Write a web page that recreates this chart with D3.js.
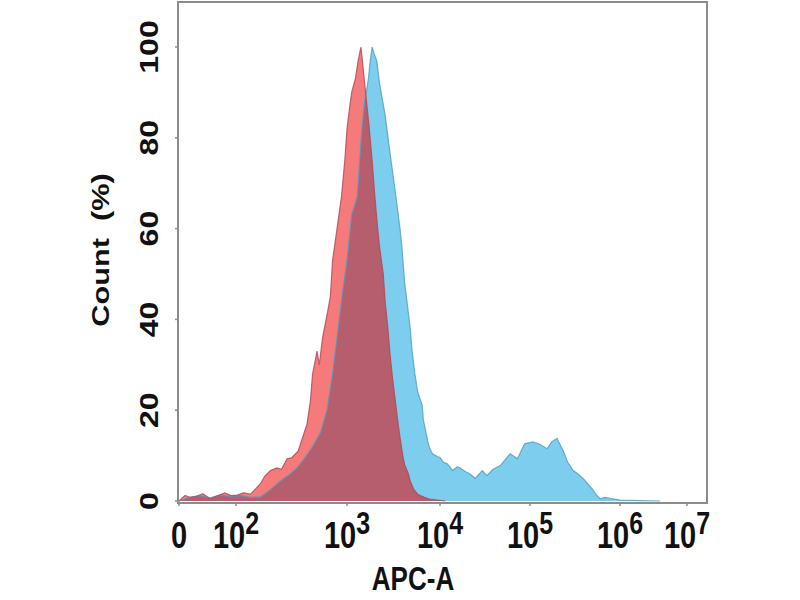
<!DOCTYPE html>
<html>
<head>
<meta charset="utf-8">
<script src="https://cdn.jsdelivr.net/npm/d3@7"></script>
<style>
  html, body { margin: 0; padding: 0; background: #fff; }
  svg { display: block; }
  text { font-family: "Liberation Sans", Arial, sans-serif; font-weight: bold; fill: #111; }
</style>
</head>
<body>
<svg id="chart" width="800" height="600"></svg>
<script>
// x values are log10(APC-A) decade positions on the display scale (0 = "0" tick)
const xTickValues = [0, 2, 3, 4, 5, 6, 7];
const xTickExponents = ["", "2", "3", "4", "5", "6", "7"];
const yTickValues = [0, 20, 40, 60, 80, 100];

// Control (red) histogram: [decade position, count %]
const redX = [0.00,0.21,0.39,0.63,0.84,1.09,1.37,1.61,1.82,2.01,2.07,2.13,2.17,2.22,2.26,2.31,2.37,2.41,2.46,2.50,
  2.56,2.60,2.64,2.67,2.69,2.73,2.75,2.78,2.82,2.85,2.87,2.91,2.95,2.98,3.00,3.03,3.05,3.09,3.12,3.15,
  3.17,3.20,3.24,3.27,3.30,3.33,3.35,3.39,3.41,3.44,3.46,3.49,3.52,3.55,3.57,3.60,3.62,3.66,3.68,3.72,
  3.76,3.83,3.89,4.06];
const redY = [0,1.2,0.8,1.1,1.6,0.5,1.2,1.8,1.2,1.3,1.8,1.5,2.5,3.8,5.5,6.7,7.3,7.0,9.3,9.5,
  11,14,17,22,28,33,30,36,41,45,53,60,67,75,82,87,90,93,97,100,
  96,90,82,75,67,60,56,50,44,38,33,27,22,17,14,10,8,6,4.4,2.5,
  1.5,0.8,0.4,0];

// Stained (blue) histogram: [decade position, count %]
const blueX = [0.00,0.39,0.74,1.09,1.44,1.79,2.04,2.13,2.22,2.31,2.40,2.49,2.55,2.62,2.69,2.76,2.82,2.87,2.92,2.96,
  3.00,3.05,3.11,3.14,3.16,3.19,3.23,3.25,3.27,3.30,3.32,3.35,3.41,3.46,3.52,3.57,3.59,3.62,3.645,3.68,
  3.70,3.73,3.76,3.81,3.82,3.85,3.87,3.89,3.92,3.97,4.00,4.04,4.08,4.11,4.14,4.19,4.22,4.28,4.33,4.39,
  4.47,4.52,4.59,4.67,4.72,4.78,4.86,4.94,5.03,5.11,5.19,5.24,5.30,5.37,5.42,5.48,5.53,5.59,5.64,5.69,
  5.73,5.78,5.83,5.89,6.00,6.30,6.60];
const blueY = [0,0.8,1.2,0.7,1.3,1.0,1.2,0.8,0.9,2.5,4.4,6,7.3,9.5,12,15,20,28,38,46,
  53,63,67,76,82,88,93,97,100,98,97,92,85,77,68,60,56,48,44,38,
  33,28,24,21,18,15,13,11.5,10.4,9.8,9.6,8.5,8.2,7.5,6.7,7.5,7.3,6.5,6,5,
  6.7,5.6,7,7.8,9,10.4,9.3,12.6,13,12.5,11.5,13,13.8,11,8.5,6.7,6,5,3.8,2.7,
  1.5,0.5,0.8,0.6,0.2,0.1,0];

const redData = redX.map((v, i) => [v, redY[i]]);
const blueData = blueX.map((v, i) => [v, blueY[i]]);

const svg = d3.select("#chart");
const plot = { left: 178, right: 707, top: 2, bottom: 503 };

const x = d3.scaleLinear()
  .domain(xTickValues)
  .range([179, 236, 347, 440, 530, 620, 687]);
const y = d3.scaleLinear().domain([0, 100]).range([501, 47]);

const area = d3.area().x(d => x(d[0])).y0(y(0)).y1(d => y(d[1]));
const line = d3.line().x(d => x(d[0])).y(d => y(d[1]));

const defs = svg.append("defs");
defs.append("clipPath").attr("id", "blueClip")
  .append("path").attr("d", area(blueData));
defs.append("clipPath").attr("id", "plotClip")
  .append("rect").attr("x", plot.left).attr("y", plot.top)
  .attr("width", plot.right - plot.left).attr("height", plot.bottom - plot.top);

const g = svg.append("g").attr("clip-path", "url(#plotClip)");

// blue histogram
g.append("path").attr("d", area(blueData)).attr("fill", "#7ccdee");
// red histogram
g.append("path").attr("d", area(redData)).attr("fill", "#f47a7b");
// overlap region
g.append("path").attr("d", area(redData)).attr("fill", "#b65e6d")
  .attr("clip-path", "url(#blueClip)");
// outlines
g.append("path").attr("d", line(blueData)).attr("fill", "none")
  .attr("stroke", "#4f9fbd").attr("stroke-width", 1.2).attr("stroke-opacity", 0.8);
g.append("path").attr("d", line(redData)).attr("fill", "none")
  .attr("stroke", "#b04858").attr("stroke-width", 1.2).attr("stroke-opacity", 0.8);

// frame
svg.append("rect")
  .attr("x", plot.left).attr("y", plot.top)
  .attr("width", plot.right - plot.left).attr("height", plot.bottom - plot.top)
  .attr("fill", "none").attr("stroke", "#8c8c8c").attr("stroke-width", 2);

// x ticks
const xTicks = svg.append("g");
xTickValues.forEach((v, i) => {
  const px = x(v);
  xTicks.append("line").attr("x1", px).attr("x2", px)
    .attr("y1", plot.bottom).attr("y2", plot.bottom + 3)
    .attr("stroke", "#8c8c8c").attr("stroke-width", 1.5);
  const t = xTicks.append("text")
    .attr("transform", `translate(${px},548) scale(1,1.25)`)
    .attr("text-anchor", "middle")
    .attr("font-size", 29);
  if (v === 0) {
    t.text("0");
  } else {
    t.append("tspan").text("10");
    t.append("tspan").attr("font-size", 25).attr("dy", -11).text(xTickExponents[i]);
  }
});

// y ticks
const yTicks = svg.append("g");
yTickValues.forEach(v => {
  const py = y(v);
  yTicks.append("line").attr("x1", plot.left - 3).attr("x2", plot.left)
    .attr("y1", py).attr("y2", py)
    .attr("stroke", "#8c8c8c").attr("stroke-width", 1.5);
  yTicks.append("text")
    .attr("transform", `translate(158,${py}) scale(1,1.28) rotate(-90)`)
    .attr("text-anchor", "middle")
    .attr("font-size", 25)
    .text(v);
});

// axis titles
svg.append("text")
  .attr("transform", "translate(413,590) scale(1,1.25)")
  .attr("text-anchor", "middle").attr("font-size", 26)
  .text("APC-A");
svg.append("text")
  .attr("transform", "translate(109,250) scale(1,1.28) rotate(-90)")
  .attr("text-anchor", "middle").attr("font-size", 24)
  .attr("xml:space", "preserve")
  .text("Count  (%)");
</script>
</body>
</html>
